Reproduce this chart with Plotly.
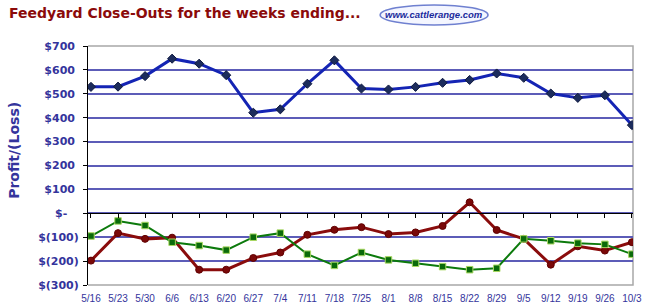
import plotly.graph_objects as go

weeks = ["5/16", "5/23", "5/30", "6/6", "6/13", "6/20", "6/27", "7/4", "7/11", "7/18", "7/25",
         "8/1", "8/8", "8/15", "8/22", "8/29", "9/5", "9/12", "9/19", "9/26", "10/3"]
blue_vals = [529, 530, 574, 647, 626, 578, 421, 435, 542, 640, 522,
             518, 529, 546, 558, 585, 567, 501, 483, 494, 369]
red_vals = [-198, -83, -107, -102, -236, -236, -187, -164, -90, -69, -58,
            -87, -80, -53, 46, -70, -107, -215, -138, -156, -121]
green_vals = [-95, -32, -51, -121, -135, -154, -100, -83, -171, -218, -164,
              -195, -209, -223, -236, -230, -107, -115, -125, -130, -171]
y_ticks = [700, 600, 500, 400, 300, 200, 100, 0, -100, -200, -300]
y_tick_text = ["$700\u00a0", "$600\u00a0", "$500\u00a0", "$400\u00a0", "$300\u00a0", "$200\u00a0",
               "$100\u00a0", "$-\u00a0\u00a0\u00a0", "$(100)", "$(200)", "$(300)"]

xs = list(range(len(weeks)))
label_color = "#34349c"

fig = go.Figure()
fig.add_trace(go.Scatter(x=xs, y=blue_vals, mode="lines+markers",
                         line=dict(color="#1424b4", width=3),
                         marker=dict(symbol="diamond", size=7, color="#1c2c5c",
                                     line=dict(color="#101a40", width=1)),
                         hoverinfo="skip"))
fig.add_trace(go.Scatter(x=xs, y=red_vals, mode="lines+markers",
                         line=dict(color="#8a0c0c", width=3),
                         marker=dict(symbol="circle", size=7, color="#7a0808",
                                     line=dict(color="#600000", width=1)),
                         hoverinfo="skip"))
fig.add_trace(go.Scatter(x=xs, y=green_vals, mode="lines+markers",
                         line=dict(color="#0c7a0c", width=2),
                         marker=dict(symbol="square", size=6.5, color="#0a6a0a",
                                     line=dict(color="#a8d860", width=1)),
                         hoverinfo="skip"))

fig.update_layout(
    width=645, height=306,
    margin=dict(l=88, r=12, t=46, b=21, autoexpand=False),
    paper_bgcolor="white", plot_bgcolor="white",
    showlegend=False,
    xaxis=dict(range=[-0.11, 20.04], tickvals=xs, ticktext=weeks, automargin=False,
               showgrid=False, zeroline=False, showline=False, ticks="",
               tickfont=dict(family="Liberation Sans, Arial, sans-serif", size=10, color=label_color),
               ticklabelstandoff=6),
    xaxis2=dict(range=[-0.11, 20.04], overlaying="x", anchor="free", position=0.3, automargin=False,
                side="bottom", tickvals=xs, showticklabels=False, showgrid=False,
                zeroline=False, showline=True, linecolor="black", linewidth=1,
                ticks="outside", ticklen=4, tickcolor="black", tickwidth=1),
    yaxis=dict(range=[-300, 700], tickvals=y_ticks, ticktext=y_tick_text, automargin=False,
               showgrid=True, gridcolor="#5c5cb8", gridwidth=1.5,
               zeroline=False, showline=True, linecolor="black", linewidth=1,
               ticks="outside", ticklen=4, tickcolor="black",
               tickfont=dict(family="DejaVu Sans, Verdana, sans-serif", size=11, color=label_color,
                             weight="bold"),
               ticklabelstandoff=2),
)

# dummy trace on xaxis2 so it renders
fig.add_trace(go.Scatter(x=[0], y=[None], xaxis="x2", yaxis="y", showlegend=False, hoverinfo="skip"))

# gray plot border (top, right, bottom)
fig.add_shape(type="path", xref="paper", yref="paper",
              path="M 0,1 L 1,1 L 1,0 L 0,0", line=dict(color="#a8a8a8", width=1.5), layer="below")

fig.add_annotation(text="<b>Feedyard Close-Outs for the weeks ending...</b>",
                   xref="paper", yref="paper", x=-0.149, y=1.14, xanchor="left", yanchor="middle",
                   showarrow=False,
                   font=dict(family="DejaVu Sans, Verdana, sans-serif", size=14, color="#8b0a0a"))

fig.add_shape(type="circle", xref="paper", yref="paper",
              x0=0.536, x1=0.734, y0=1.088, y1=1.172,
              line=dict(color="#6f80d0", width=1.5), fillcolor="#f4f6ff")
fig.add_annotation(text="<b><i>www.cattlerange.com</i></b>",
                   xref="paper", yref="paper", x=0.635, y=1.13, xanchor="center", yanchor="middle",
                   showarrow=False,
                   font=dict(family="Liberation Sans Narrow, Liberation Sans, Arial, sans-serif",
                             size=9.5, color="#1a2a9c"))

fig.add_annotation(text="<b>Profit/(Loss)</b>", textangle=-90,
                   xref="paper", yref="paper", x=-0.136, y=0.565, xanchor="center", yanchor="middle",
                   showarrow=False,
                   font=dict(family="DejaVu Sans, Verdana, sans-serif", size=14, color=label_color))

fig.write_html("out.html")
